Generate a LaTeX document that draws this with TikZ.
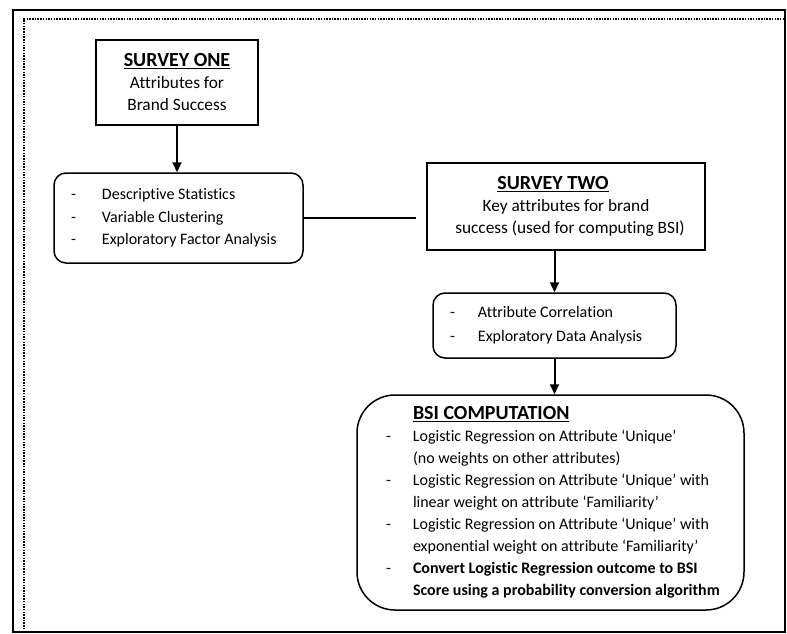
\documentclass[tikz,border=0pt]{standalone}
\usepackage{fontspec}
\setmainfont{Carlito}[Ligatures=NoCommon]
\usetikzlibrary{arrows.meta,positioning,calc}
\newcommand{\dashitem}[2][0pt]{\hspace*{#1}\makebox[#2][l]{-}}
\newcommand{\headfont}{\fontsize{20}{22}\selectfont}

\begin{document}
\begin{tikzpicture}[x=1pt,y=-1pt,
  font=\fontsize{16}{22.5}\selectfont,
  >={Triangle[length=10pt,width=9pt]},
  survey/.style={draw, line width=2.4pt, inner sep=0pt, align=center, font=\fontsize{17.3}{22}\selectfont},
  list/.style={draw, line width=1.5pt, rounded corners=12pt, inner xsep=17pt, inner ysep=0pt, align=left,
    execute at begin node={\spaceskip=0pt\xspaceskip=0pt\relax}},
  conn/.style={draw=black, line width=2pt},
]
\useasboundingbox (0,0) rectangle (787,634);
% ---------------- frame ----------------
\draw[line width=2.2pt] (13,10) rectangle (785,632);
\draw[line width=1.5pt, dash pattern=on 1.5pt off 1.2pt] (24,632) -- (24,19) -- (785,19);
% ---------------- first survey ----------------
\node[survey, minimum width=162pt, minimum height=85pt] (one) at (177,82.5)
  {{\headfont\textbf{\underline{SURVEY ONE}}}\\Attributes for\\Brand Success};
\node[list, text width=215pt, minimum height=90pt] (stat) at (178.5,218)
  {\dashitem{31pt}Descriptive Statistics\\
   \dashitem{31pt}Variable Clustering\\
   \dashitem{31pt}Exploratory Factor Analysis};
\draw[conn,->] (one.south) -- (one.south |- stat.north);
% ---------------- second survey ----------------
\node[survey, minimum width=278pt, minimum height=87pt] (two) at (566,206.5)
  {{\headfont\textbf{\underline{SURVEY TWO}}}\hspace*{26pt}\\Key attributes for brand\hspace*{26pt}\\\hspace*{8pt}success (used for computing BSI)};
\draw[conn] (stat.east) -- ($(stat.east -| two.west)+(-10,0)$);
\node[list, text width=209pt, minimum height=65pt, font=\fontsize{16}{24}\selectfont] (corr) at (554.5,325.5)
  {\dashitem{28pt}Attribute Correlation\\
   \dashitem{28pt}Exploratory Data Analysis};
\draw[conn,->] (two.south -| corr.north) -- (corr.north);
% ---------------- BSI ----------------
\node[list, rounded corners=38pt, text width=357pt, inner xsep=15pt, minimum height=215pt,
  font=\fontsize{16}{22}\selectfont] (bsi) at (550.5,502.5)
  {\hspace*{41pt}{\headfont\textbf{\underline{BSI COMPUTATION}}}\\
   \dashitem[14pt]{27pt}Logistic Regression on Attribute ‘Unique’\\
   \hspace*{41pt}(no weights on other attributes)\\
   \dashitem[14pt]{27pt}Logistic Regression on Attribute ‘Unique’ with\\
   \hspace*{41pt}linear weight on attribute ‘Familiarity’\\
   \dashitem[14pt]{27pt}Logistic Regression on Attribute ‘Unique’ with\\
   \hspace*{41pt}exponential weight on attribute ‘Familiarity’\\
   \dashitem[14pt]{27pt}\textbf{Convert Logistic Regression outcome to BSI}\\
   \hspace*{41pt}\textbf{Score using a probability conversion algorithm}};
\draw[conn,->] (corr.south) -- (corr.south |- bsi.north);
\end{tikzpicture}
\end{document}
